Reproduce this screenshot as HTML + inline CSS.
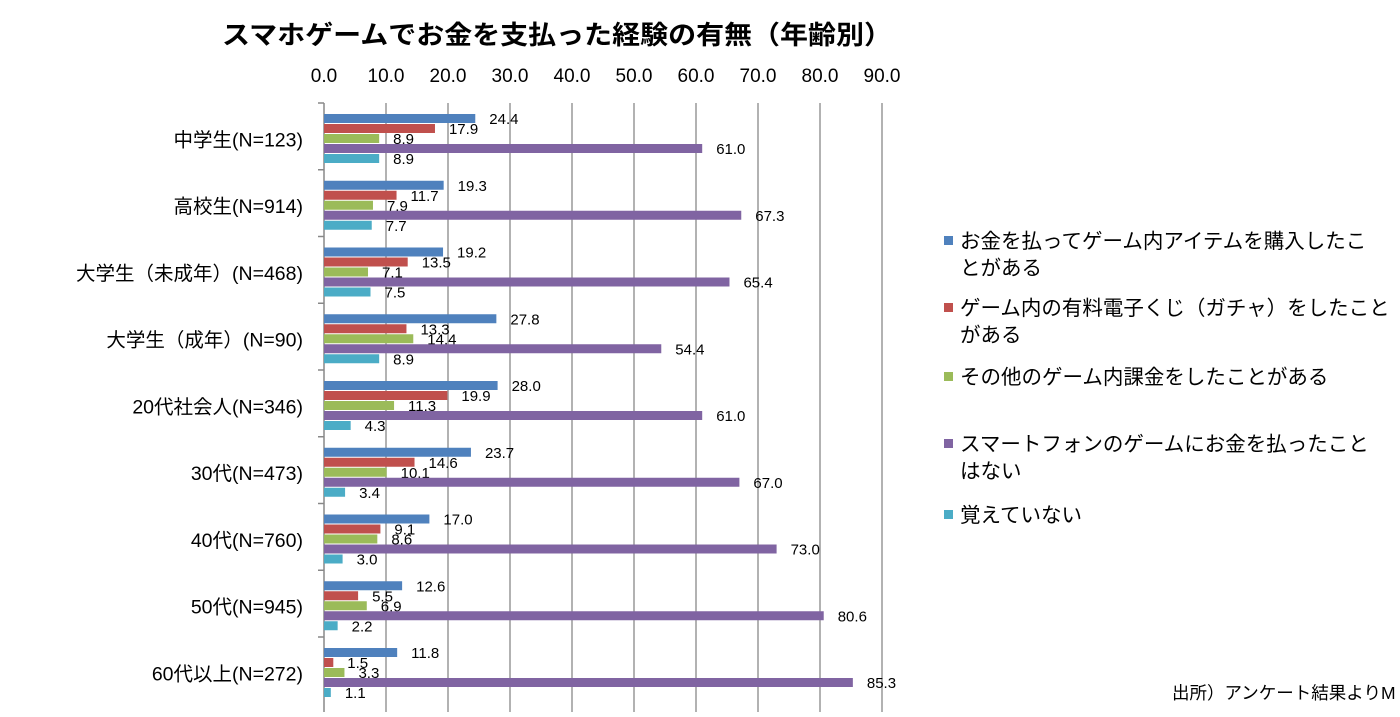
<!DOCTYPE html>
<html><head><meta charset="utf-8"><style>
body{margin:0;background:#fff;width:1400px;height:712px;overflow:hidden;font-family:"Liberation Sans","Noto Sans CJK JP",sans-serif;}
svg text{font-family:"Liberation Sans","Noto Sans CJK JP",sans-serif;}
</style></head><body>
<svg id="chart" width="1400" height="712" xmlns="http://www.w3.org/2000/svg">
<text x="222" y="44" font-size="26" font-weight="bold" textLength="670" lengthAdjust="spacingAndGlyphs">スマホゲームでお金を支払った経験の有無（年齢別）</text>
<g id="grid"></g><g id="bars"></g><g id="legend"></g>
<text x="1172" y="699" font-size="17.5">出所）アンケート結果よりM</text>
</svg>
<script>
const categories=["中学生(N=123)","高校生(N=914)","大学生（未成年）(N=468)","大学生（成年）(N=90)","20代社会人(N=346)","30代(N=473)","40代(N=760)","50代(N=945)","60代以上(N=272)"];
const seriesNames=["お金を払ってゲーム内アイテムを購入したことがある","ゲーム内の有料電子くじ（ガチャ）をしたことがある","その他のゲーム内課金をしたことがある","スマートフォンのゲームにお金を払ったことはない","覚えていない"];
const sPurchase=[24.4,19.3,19.2,27.8,28.0,23.7,17.0,12.6,11.8];
const sGacha=[17.9,11.7,13.5,13.3,19.9,14.6,9.1,5.5,1.5];
const sOther=[8.9,7.9,7.1,14.4,11.3,10.1,8.6,6.9,3.3];
const sNever=[61.0,67.3,65.4,54.4,61.0,67.0,73.0,80.6,85.3];
const sForget=[8.9,7.7,7.5,8.9,4.3,3.4,3.0,2.2,1.1];
const ticks=[0,10,20,30,40,50,60,70,80,90];
const series=[sPurchase,sGacha,sOther,sNever,sForget];
const colors=["#4f81bd","#c0504d","#9bbb59","#8064a2","#4bacc6"];
const NS="http://www.w3.org/2000/svg";
const x0=324,scale=6.2,plotTop=103,band=66.75,bh=10;
const X=v=>x0+v*scale;
function mk(t,a,p){const e=document.createElementNS(NS,t);for(const k in a)e.setAttribute(k,a[k]);p.appendChild(e);return e;}
const grid=document.getElementById('grid'),bars=document.getElementById('bars'),leg=document.getElementById('legend');
ticks.forEach(t=>{
 const l=mk('line',{x1:X(t),x2:X(t),y1:plotTop,y2:712,stroke:t===0?'#888':'#999','stroke-width':1.5},grid);
 
 
 const tx=mk('text',{x:X(t),y:82,'font-size':19,'text-anchor':'middle'},grid);tx.textContent=t.toFixed(1);
 
 
});
categories.forEach((c,i)=>{
 const by=plotTop+i*band;
 const tk=mk('line',{x1:x0-6,x2:x0,y1:by,y2:by,stroke:'#888','stroke-width':1.5},grid);
 
 
 const lb=mk('text',{x:303,y:by+band/2+10,'font-size':19.5,'text-anchor':'end'},grid);lb.textContent=c;
 
 
 series.forEach((s,j)=>{
  const y=by+11+j*bh;
  const r=mk('rect',{x:x0,y:y,width:X(s[i])-x0,height:bh-1,fill:colors[j]},bars);
  
  
  const v=mk('text',{x:X(s[i])+14,y:y+bh/2+5,'font-size':15},bars);v.textContent=s[i].toFixed(1);
  
  
 });
});
const legY=[241,308,377,444,515];
const lines=[["お金を払ってゲーム内アイテムを購入したこ","とがある"],["ゲーム内の有料電子くじ（ガチャ）をしたこと","がある"],["その他のゲーム内課金をしたことがある"],["スマートフォンのゲームにお金を払ったこと","はない"],["覚えていない"]];
lines.forEach((ls,j)=>{
 const r=mk('rect',{x:944,y:legY[j]-5,width:9,height:9,fill:colors[j]},leg);
 
 
 ls.forEach((t,k)=>{const tx=mk('text',{x:960,y:legY[j]+7+k*27,'font-size':20.5},leg);tx.textContent=t;
 
 });
});
</script>
</body></html>
